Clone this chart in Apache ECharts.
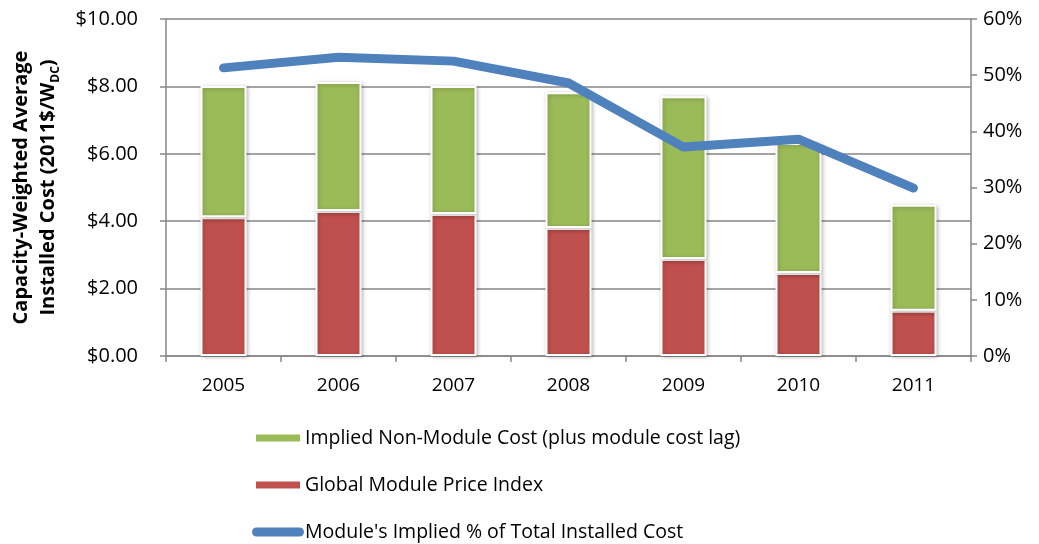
<!DOCTYPE html>
<html><head><meta charset="utf-8">
<script src="https://cdn.jsdelivr.net/npm/echarts@6/dist/echarts.min.js"></script>
<style>html,body{margin:0;padding:0;background:#fff}#c{width:1039px;height:544px}</style>
</head><body><div id="c"></div>
<script>
const years = ['2005','2006','2007','2008','2009','2010','2011'];
const moduleIndex = [4.12, 4.30, 4.21, 3.80, 2.88, 2.46, 1.34];
const totalCost = [8.01, 8.13, 8.01, 7.83, 7.71, 6.32, 4.49];
const nonModule = totalCost.map((t, i) => +(t - moduleIndex[i]).toFixed(2));
const modulePct = [51.3, 53.2, 52.5, 48.6, 37.2, 38.6, 29.9];
const leftTicks = ['$0.00','$2.00','$4.00','$6.00','$8.00','$10.00'];

const FONT = 'Open Sans';
const chart = echarts.init(document.getElementById('c'));
const gray = '#868686';
chart.setOption({
  animation: false,
  textStyle: { fontFamily: FONT, color: '#000' },
  grid: { left: 166, right: 68, top: 19, bottom: 188, outerBoundsMode: 'none', containLabel: false },
  legend: {
    orient: 'vertical', left: 252, top: 428, itemGap: 27, padding: 0,
    itemWidth: 52, itemHeight: 9,
    textStyle: { fontSize: 19.5, lineHeight: 20, fontFamily: FONT, color: '#000', padding: [0,0,0,-4] },
    data: [
      { name: 'Implied Non-Module Cost (plus module cost lag)', icon: 'path://M3,0H49V9H3Z' },
      { name: 'Global Module Price Index', icon: 'path://M3,0H49V9H3Z' },
      { name: "Module's Implied % of Total Installed Cost",
        icon: 'path://M4.5,0H47.5A4.5,4.5,0,0,1,47.5,9H4.5A4.5,4.5,0,0,1,4.5,0Z',
        itemStyle: { color: '#4F81BD' } }
    ]
  },
  xAxis: {
    type: 'category', data: years,
    axisLine: { lineStyle: { color: gray, width: 1.5 } },
    axisTick: { show: true, length: 6, lineStyle: { color: gray, width: 1.5 } },
    axisLabel: { fontSize: 19, color: '#000', margin: 20 }
  },
  yAxis: [
    {
      type: 'value', min: 0, max: 10, interval: 2,
      axisLine: { show: true, lineStyle: { color: gray, width: 1.5 } },
      axisTick: { show: true, length: 6, lineStyle: { color: gray, width: 1.5 } },
      splitLine: { lineStyle: { color: gray, width: 1.5 } },
      axisLabel: { fontSize: 20, color: '#000', margin: 28,
        formatter: v => leftTicks[Math.round(v / 2)] },
      name: '{b|Capacity-Weighted Average}\n{b|Installed Cost (2011$/W}{s|DC}{b|)}',
      nameLocation: 'middle', nameRotate: 90, nameGap: 104,
      nameTextStyle: {
        rich: {
          b: { fontSize: 20, fontWeight: 'bold', fontFamily: FONT, color: '#000', lineHeight: 27 },
          s: { fontSize: 12, fontWeight: 'bold', fontFamily: FONT, color: '#000', lineHeight: 27, verticalAlign: 'bottom', padding: [9,0,0,0] }
        }
      }
    },
    {
      type: 'value', min: 0, max: 60, interval: 10,
      axisLine: { show: true, lineStyle: { color: gray, width: 1.5 } },
      axisTick: { show: true, length: 6, lineStyle: { color: gray, width: 1.5 } },
      splitLine: { show: false },
      axisLabel: { fontSize: 20, color: '#000', margin: 12, formatter: '{value}%' }
    }
  ],
  series: [
    {
      name: 'Global Module Price Index', type: 'bar', stack: 's', data: moduleIndex,
      barWidth: 46,
      itemStyle: { color: '#C0504D', borderColor: '#fff', borderWidth: 2,
        shadowBlur: 4, shadowColor: 'rgba(0,0,0,0.25)', shadowOffsetX: 1, shadowOffsetY: 1 }
    },
    {
      name: 'Implied Non-Module Cost (plus module cost lag)', type: 'bar', stack: 's', data: nonModule,
      barWidth: 46,
      itemStyle: { color: '#9BBB59', borderColor: '#fff', borderWidth: 2,
        shadowBlur: 4, shadowColor: 'rgba(0,0,0,0.25)', shadowOffsetX: 1, shadowOffsetY: 1 }
    },
    {
      name: "Module's Implied % of Total Installed Cost", type: 'line', yAxisIndex: 1,
      data: modulePct, showSymbol: false, symbol: 'none', z: 5,
      itemStyle: { color: '#4F81BD' },
      lineStyle: { color: '#4F81BD', width: 9, cap: 'round', join: 'round' }
    }
  ]
});
</script></body></html>
